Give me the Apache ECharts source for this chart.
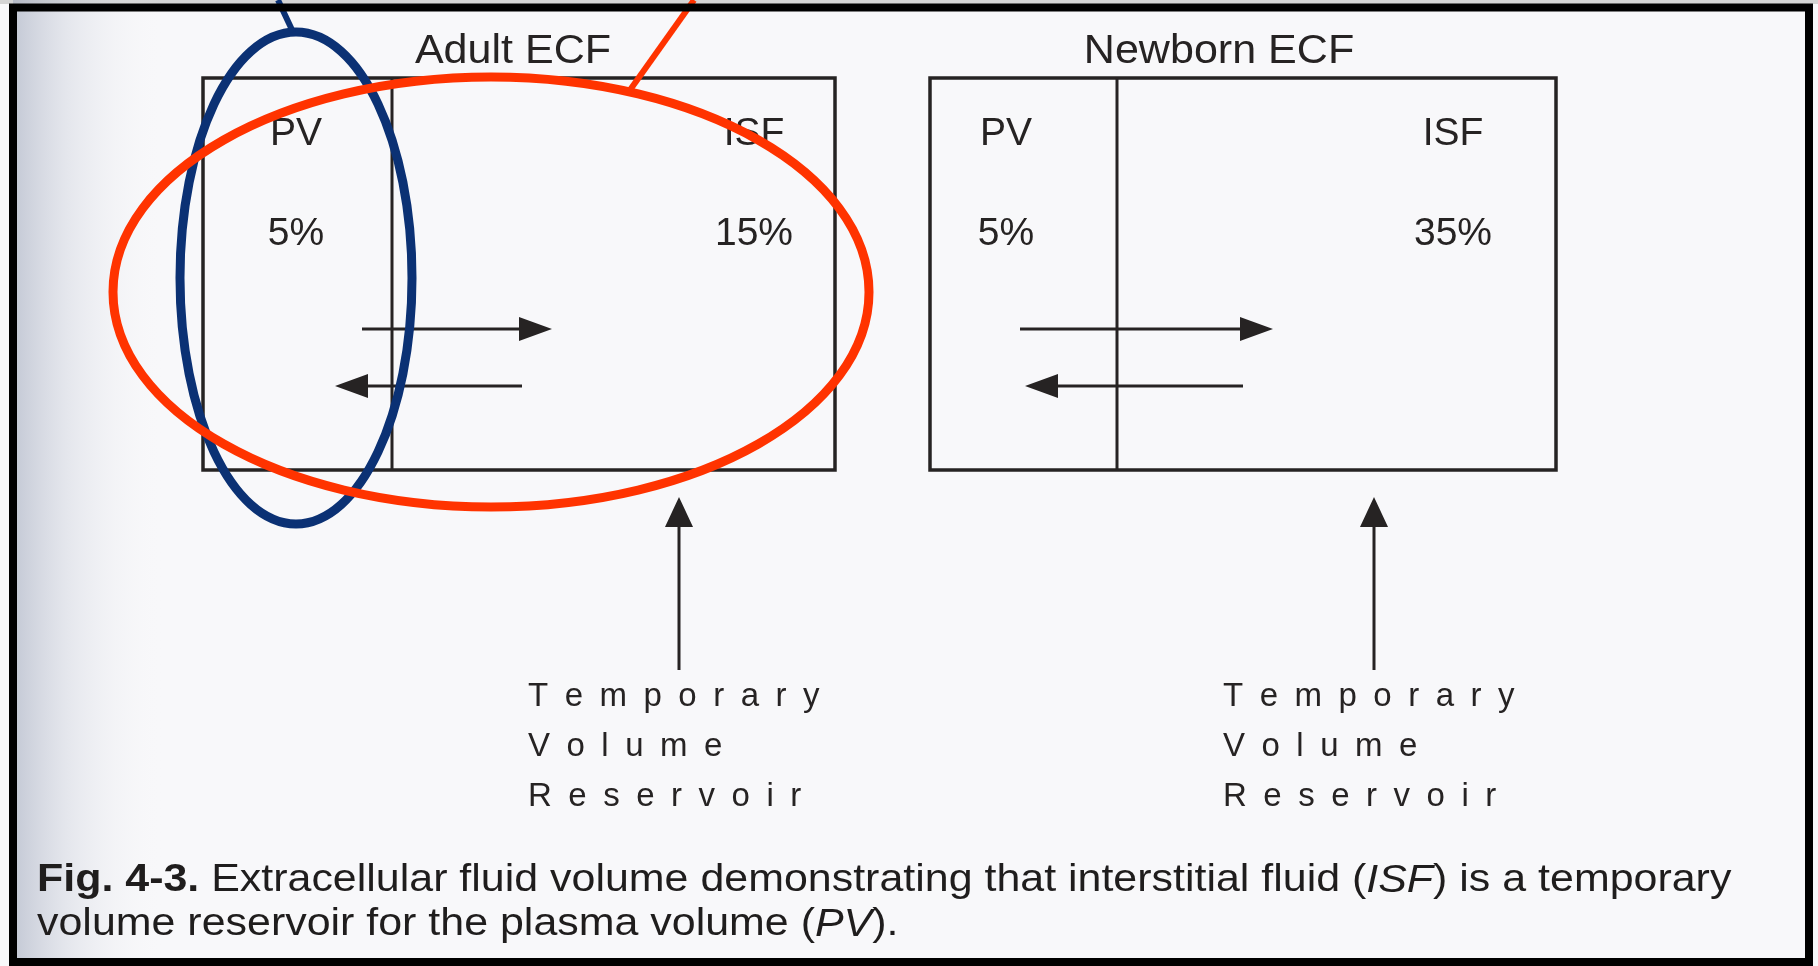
<!DOCTYPE html>
<html lang="en">

<head>
    <meta charset="UTF-8">
    <title>Fig. 4-3 Extracellular fluid volume</title>
    <script src="https://cdn.jsdelivr.net/npm/echarts@6/dist/echarts.min.js"></script>
    <style>
        html, body { margin: 0; padding: 0; background: #f8f8fa; }
    </style>
</head>

<body>
    <div id="main" style="width: 1818px;height:966px;"></div>
    <script type="text/javascript">
        // values
        var panelTitles = ['Adult ECF', 'Newborn ECF']
        var compartmentNames = ['PV', 'ISF']
        var pvPercent = [5, 5]
        var isfPercent = [15, 35]
        var reservoirWords = ['Temporary', 'Volume', 'Reservoir']
        var captionLines = [
            '{b|Fig. 4-3.} Extracellular fluid volume demonstrating that interstitial fluid ({i|ISF}) is a temporary',
            'volume reservoir for the plasma volume ({i|PV}).'
        ]

        // layout, in axis units (axis spans the whole canvas)
        var W = 1818, H = 966
        var lay = {
            boxLeft: [203, 930], boxDivider: [392, 1117], boxRight: [835, 1556],
            boxTop: 78, boxBottom: 470,
            titleX: [513, 1219], titleY: 52,
            pvX: [296, 1006], isfX: [754, 1453], nameY: 134, pctY: 234,
            outArrow: [[362, 552], [1020, 1273]], outY: 329,
            inArrow: [[522, 335], [1243, 1025]], inY: 386,
            upX: [679, 1374], upTip: 497, upTail: 670,
            resX: [528, 1223], resY: [697, 747, 797]
        }
        var INK = '#262323'
        var FONT = '"Liberation Sans", Arial, sans-serif'

        var myChart = echarts.init(document.getElementById('main'))

        function label(pt, s, size, align, sx) {
            return {
                type: 'text', x: pt[0], y: pt[1], scaleX: sx || 1,
                style: { text: s, fill: INK, font: size + 'px ' + FONT, align: align || 'center', verticalAlign: 'middle' }
            }
        }

        function arrow(a, b, len, half, width) {
            // a = tail, b = tip (pixels)
            var dx = b[0] - a[0], dy = b[1] - a[1]
            var d = Math.sqrt(dx * dx + dy * dy), ux = dx / d, uy = dy / d
            var base = [b[0] - ux * len, b[1] - uy * len]
            return [
                { type: 'line', shape: { x1: a[0], y1: a[1], x2: base[0] + ux * 2, y2: base[1] + uy * 2 }, style: { stroke: INK, lineWidth: width } },
                {
                    type: 'polygon',
                    shape: { points: [b, [base[0] - uy * half, base[1] + ux * half], [base[0] + uy * half, base[1] - ux * half]] },
                    style: { fill: INK }
                }
            ]
        }

        function renderPanel(params, api) {
            var i = api.value(0)
            var c = function (x, y) { return api.coord([x, y]) }
            var tl = c(lay.boxLeft[i], lay.boxTop), br = c(lay.boxRight[i], lay.boxBottom)
            var dTop = c(lay.boxDivider[i], lay.boxTop), dBot = c(lay.boxDivider[i], lay.boxBottom)
            var kids = [
                { type: 'rect', shape: { x: tl[0], y: tl[1], width: br[0] - tl[0], height: br[1] - tl[1] }, style: { fill: null, stroke: INK, lineWidth: 3.5 } },
                { type: 'line', shape: { x1: dTop[0], y1: dTop[1], x2: dBot[0], y2: dBot[1] }, style: { stroke: INK, lineWidth: 3 } },
                label(c(lay.titleX[i], lay.titleY), panelTitles[i], 41, 'center', 1.05),
                label(c(lay.pvX[i], lay.nameY), compartmentNames[0], 39),
                label(c(lay.isfX[i], lay.nameY), compartmentNames[1], 39),
                label(c(lay.pvX[i], lay.pctY), api.value(1) + '%', 39),
                label(c(lay.isfX[i], lay.pctY), api.value(2) + '%', 39)
            ]
            kids = kids.concat(arrow(c(lay.outArrow[i][0], lay.outY), c(lay.outArrow[i][1], lay.outY), 33, 12, 3.2))
            kids = kids.concat(arrow(c(lay.inArrow[i][0], lay.inY), c(lay.inArrow[i][1], lay.inY), 33, 12, 3.2))
            kids = kids.concat(arrow(c(lay.upX[i], lay.upTail), c(lay.upX[i], lay.upTip), 30, 14, 3))
            reservoirWords.forEach(function (w, k) {
                kids.push(label(c(lay.resX[i], lay.resY[k]), w.split('').join('\u2002'), 33, 'left'))
            })
            return { type: 'group', children: kids }
        }

        function ring(cx, cy, rx, ry, color, lead) {
            return [
                { type: 'ellipse', shape: { cx: cx, cy: cy, rx: rx, ry: ry }, style: { fill: null, stroke: color, lineWidth: 9 }, z: 50 },
                { type: 'line', shape: { x1: lead[0], y1: lead[1], x2: lead[2], y2: lead[3] }, style: { stroke: color, lineWidth: 6 }, z: 50 }
            ]
        }

        var f = 38
        var richText = {
            b: { fontWeight: 'bold', fontSize: f, fontFamily: FONT, fill: '#1f1d1d' },
            i: { fontStyle: 'italic', fontSize: f, fontFamily: FONT, fill: '#1f1d1d' }
        }

        var option = {
            backgroundColor: '#f8f8fa',
            animation: false,
            grid: { left: 0, right: 0, top: 0, bottom: 0 },
            xAxis: { type: 'value', min: 0, max: W, show: false },
            yAxis: { type: 'value', min: 0, max: H, inverse: true, show: false },
            graphic: [
                // scan shadow on the left edge
                {
                    type: 'rect', z: -10, shape: { x: 13, y: 0, width: 150, height: H },
                    style: {
                        fill: new echarts.graphic.LinearGradient(0, 0, 1, 0, [
                            { offset: 0, color: 'rgba(160,168,188,0.6)' },
                            { offset: 0.35, color: 'rgba(190,196,210,0.35)' },
                            { offset: 1, color: 'rgba(248,248,250,0)' }
                        ])
                    }
                },
                { type: 'rect', z: -11, shape: { x: 0, y: 0, width: W, height: 4 }, style: { fill: '#d4d4d4' } },
                { type: 'rect', z: 60, shape: { x: 13, y: 7.5, width: 1796, height: 954.5 }, style: { fill: null, stroke: '#000', lineWidth: 8 } }
            ]
                .concat(ring(296, 278, 116, 246, '#0b3174', [293, 32, 278, 0]))
                .concat(ring(491, 292, 378, 215, '#ff3300', [630, 90, 694, 0]))
                .concat(captionLines.map(function (s, k) {
                    return {
                        type: 'text', z: 10, x: 37, y: 881 + k * 44, scaleX: 1.13,
                        style: { text: s, fill: '#1f1d1d', fontSize: f, fontFamily: FONT, verticalAlign: 'middle', rich: richText }
                    }
                })),
            series: [{
                type: 'custom',
                coordinateSystem: 'cartesian2d',
                renderItem: renderPanel,
                data: panelTitles.map(function (t, i) { return [i, pvPercent[i], isfPercent[i]] })
            }]
        }

        myChart.setOption(option)
    </script>
</body>

</html>
